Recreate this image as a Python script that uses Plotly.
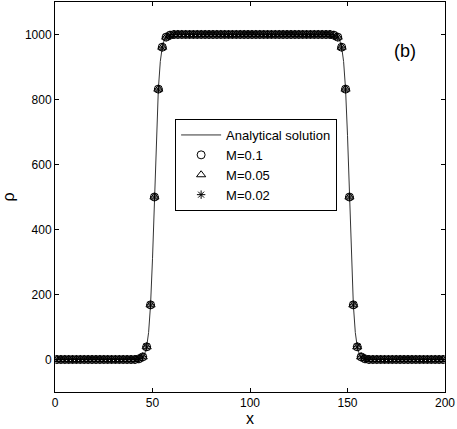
import plotly.graph_objects as go

# lattice nodes where the simulations are sampled
x_sim = list(range(1, 200, 2))

# simulated density (the three Mach numbers lie on top of each other)
rho_m01 = [
    0, 0, 0, 0, 0, 0, 0, 0, 0, 0, 0, 0, 0, 0, 0, 0, 0, 0, 0, 0, 0,
    2, 8, 39, 168, 500, 832, 961, 992, 998,
    1000, 1000, 1000, 1000, 1000, 1000, 1000, 1000, 1000, 1000,
    1000, 1000, 1000, 1000, 1000, 1000, 1000, 1000, 1000, 1000,
    1000, 1000, 1000, 1000, 1000, 1000, 1000, 1000, 1000, 1000,
    1000, 1000, 1000, 1000, 1000, 1000, 1000, 1000, 1000, 1000, 1000,
    998, 992, 961, 832, 500, 168, 39, 8, 2,
    0, 0, 0, 0, 0, 0, 0, 0, 0, 0, 0, 0, 0, 0, 0, 0, 0, 0, 0, 0,
]
rho_m005 = list(rho_m01)
rho_m002 = list(rho_m01)

# analytical profile
x_exact = [0, 40, 42, 43, 44, 45, 46, 47, 48, 49, 50, 51, 52, 53, 54, 55, 56, 57,
           58, 59, 60, 62, 140, 142, 143, 144, 145, 146, 147, 148, 149, 150, 151,
           152, 153, 154, 155, 156, 157, 158, 159, 160, 162, 200]
rho_exact = [0, 0, 1, 2, 4, 8, 18, 39, 83, 168, 310, 500, 690, 832, 917, 961, 982, 992,
             996, 998, 999, 1000, 1000, 999, 998, 996, 992, 982, 961, 917, 832, 690, 500,
             310, 168, 83, 39, 18, 8, 4, 2, 1, 0, 0]

font = "Liberation Sans, Arial, sans-serif"

fig = go.Figure()
fig.add_trace(go.Scatter(x=x_exact, y=rho_exact, mode="lines",
                         line=dict(color="#333333", width=1),
                         name="Analytical solution"))
fig.add_trace(go.Scatter(x=x_sim, y=rho_m01, mode="markers", name="M=0.1",
                         marker=dict(symbol="circle-open", size=8,
                                     color="black", line=dict(width=1))))
fig.add_trace(go.Scatter(x=x_sim, y=rho_m005, mode="markers", name="M=0.05",
                         marker=dict(symbol="triangle-up-open", size=8,
                                     color="black", line=dict(width=1))))
fig.add_trace(go.Scatter(x=x_sim, y=rho_m002, mode="markers", name="M=0.02",
                         marker=dict(symbol="asterisk-open", size=7,
                                     color="black", line=dict(width=1))))

fig.add_annotation(text="(b)", x=0.93, y=0.905, xref="paper", yref="paper",
                   showarrow=False, font=dict(size=18, color="black"))

axis = dict(showline=True, linecolor="black", linewidth=1, mirror="ticks",
            ticks="inside", ticklen=4, tickcolor="black", showgrid=False,
            zeroline=False, tickfont=dict(size=12, color="black"))

fig.update_xaxes(range=[0, 200], tickvals=[0, 50, 100, 150, 200],
                 title=dict(text="x", font=dict(size=16), standoff=2), **axis)
fig.update_yaxes(range=[-100, 1100], tickvals=[0, 200, 400, 600, 800, 1000],
                 title=dict(text="ρ", font=dict(size=16), standoff=8), **axis)

fig.update_layout(
    width=457, height=429,
    margin=dict(l=55, r=12, t=2, b=37),
    plot_bgcolor="white", paper_bgcolor="white",
    font=dict(family=font, color="black"),
    legend=dict(x=0.308, y=0.7, xanchor="left", yanchor="top",
                bordercolor="black", borderwidth=1, bgcolor="white",
                font=dict(size=13), itemwidth=40, tracegroupgap=0),
)

fig.write_html("out.html", config={"displayModeBar": False},
               post_script="document.body.style.margin='0px';")
